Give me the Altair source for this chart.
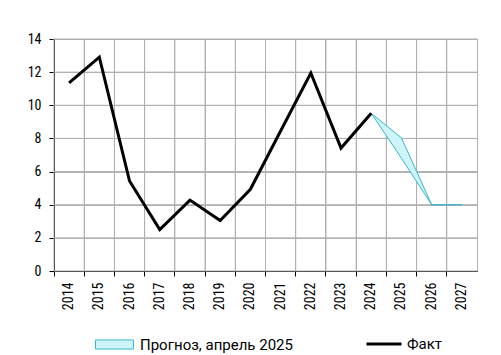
import altair as alt
import pandas as pd

years = [str(y) for y in range(2014, 2028)]
y_ticks = [0, 2, 4, 6, 8, 10, 12, 14]
fact_years = [str(y) for y in range(2014, 2025)]
fact_values = [11.35, 12.9, 5.43, 2.5, 4.28, 3.05, 4.93, 8.45, 11.95, 7.42, 9.52]
fc_years = ["2024", "2025", "2026", "2027"]
fc_low = [9.52, 6.8, 4.0, 4.0]
fc_high = [9.52, 8.03, 4.0, 4.0]

FONT = "Liberation Sans Narrow, Roboto Condensed, Roboto, sans-serif"
LFONT = "Roboto, sans-serif"
GRID = "#b0b0b0"

fact = pd.DataFrame({"year": fact_years, "value": fact_values, "s": "Факт"})
fc = pd.DataFrame({"year": fc_years, "lo": fc_low, "hi": fc_high, "s": "Прогноз, апрель 2025"})
vgrid = pd.DataFrame({"year": years})
hgrid = pd.DataFrame({"v": y_ticks})

xscale = alt.Scale(type="band", domain=years, paddingInner=0, paddingOuter=0)
xaxis = alt.Axis(title=None, bandPosition=0, labelAngle=-90, labelAlign="right",
                 labelBaseline="middle", labelPadding=6, tickSize=5, tickColor="black",
                 domainColor="black", labelFontSize=14, labelColor="black",
                 grid=True, gridColor=GRID, gridWidth=1, labelFont=FONT)
yscale = alt.Scale(domain=[0, 14])
yaxis = alt.Axis(title=None, values=y_ticks, tickSize=5, tickColor="black",
                 domainColor="black", labelFontSize=14, labelColor="black", labelPadding=8,
                 grid=True, gridColor=GRID, gridWidth=1, labelFont=FONT)

vrules = alt.Chart(vgrid).mark_rule(color=GRID, strokeWidth=1).encode(
    x=alt.X("year:O", scale=xscale, axis=xaxis, bandPosition=0),
)
hrules = alt.Chart(hgrid).mark_rule(color=GRID, strokeWidth=1).encode(
    y=alt.Y("v:Q", scale=yscale, axis=yaxis),
)

area = alt.Chart(fc).mark_area(stroke="#3ab8cc", strokeWidth=1).encode(
    x=alt.X("year:O", scale=xscale, axis=xaxis, bandPosition=0.5),
    y=alt.Y("lo:Q", scale=yscale, axis=yaxis),
    y2="hi:Q",
    fill=alt.Fill("s:N", scale=alt.Scale(domain=["Прогноз, апрель 2025"], range=["#ccf4f9"]),
                  legend=alt.Legend(title=None, orient="none", legendX=41, legendY=286,
                                    symbolType="M-1,-0.24H1V0.24H-1Z", symbolSize=1444,
                                    symbolStrokeColor="#3ab8cc", symbolStrokeWidth=1,
                                    symbolOpacity=1,
                                    labelFontSize=15, labelColor="black", labelFont=LFONT,
                                    labelOffset=6, padding=0)),
)

line = alt.Chart(fact).mark_line(strokeWidth=3).encode(
    x=alt.X("year:O", scale=xscale, axis=xaxis, bandPosition=0.5),
    y=alt.Y("value:Q", scale=yscale, axis=yaxis),
    stroke=alt.Stroke("s:N", scale=alt.Scale(domain=["Факт"], range=["black"]),
                      legend=alt.Legend(title=None, orient="none", legendX=311, legendY=286,
                                        symbolType="stroke", symbolSize=1225,
                                        symbolStrokeWidth=3,
                                        labelFontSize=15, labelColor="black", labelFont=LFONT,
                                        labelOffset=4, padding=0)),
)

chart = alt.layer(vrules, hrules, area, line).resolve_legend(
    fill="independent", stroke="independent"
).properties(
    width=423, height=232,
    autosize=alt.AutoSizeParams(type="none"),
    padding={"left": 54, "top": 39, "right": 24, "bottom": 84},
).configure_view(stroke=GRID, strokeWidth=1)

chart.save("out.html", embed_options={"renderer": "svg", "actions": False})
